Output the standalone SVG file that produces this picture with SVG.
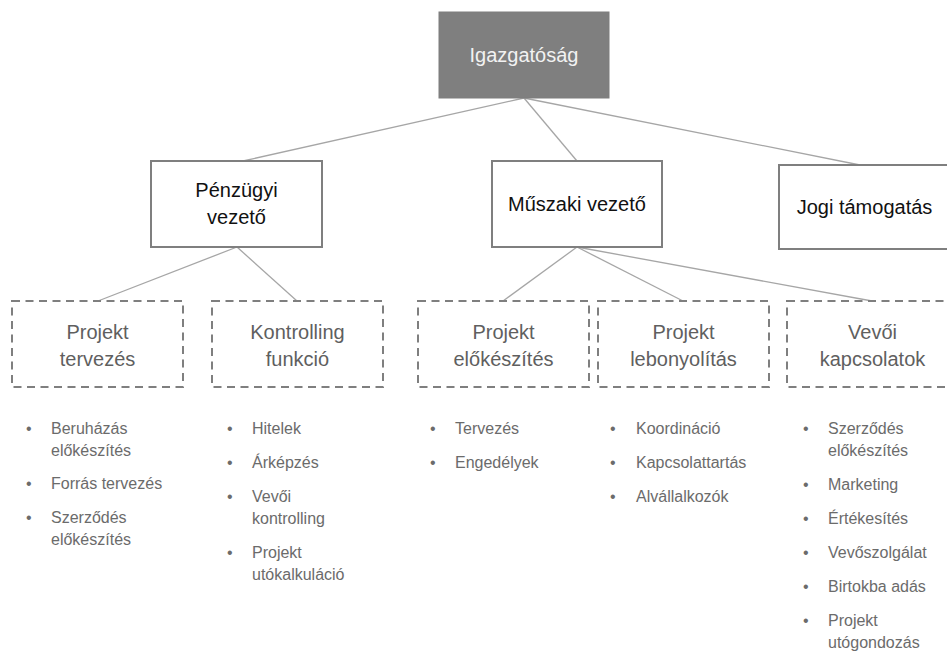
<svg xmlns="http://www.w3.org/2000/svg" width="947" height="651" viewBox="0 0 947 651">
<style>
.bg{fill:#ffffff}
.top{fill:#7f7f7f;stroke:#7f7f7f;stroke-width:1}
.solid{fill:#ffffff;stroke:#7f7f7f;stroke-width:2}
.dash{fill:#ffffff;stroke:#7f7f7f;stroke-width:2;stroke-dasharray:8 5.5}
.conn line{stroke:#a6a6a6;stroke-width:1.3;fill:none}
text{font-family:"Liberation Sans",Arial,sans-serif}
.tw{font-size:20px;fill:#f2f2f2;text-anchor:middle}
.tb{font-size:20px;fill:#111111;text-anchor:middle}
.tg{font-size:20px;fill:#5f5f5f;text-anchor:middle}
.li{font-size:16px;fill:#6b6b6b}
</style>
<rect class="bg" x="0" y="0" width="947" height="651"/>
<g id="connectors" class="conn">
<line x1="524" y1="98" x2="243" y2="161"/>
<line x1="524" y1="98" x2="577" y2="161"/>
<line x1="524" y1="98" x2="860" y2="165"/>
<line x1="237" y1="247" x2="98" y2="301"/>
<line x1="237" y1="247" x2="297" y2="301"/>
<line x1="577" y1="247" x2="503" y2="301"/>
<line x1="577" y1="247" x2="683" y2="301"/>
<line x1="577" y1="247" x2="872" y2="301"/>
</g>
<g id="igazgatosag">
<rect class="top" x="439" y="12" width="170" height="86"/>
<text class="tw" x="524" y="62">Igazgatóság</text>
</g>
<g id="penzugyi">
<rect class="solid" x="151" y="161" width="171" height="86"/>
<text class="tb" x="236.5" y="197">Pénzügyi</text>
<text class="tb" x="236.5" y="224">vezető</text>
</g>
<g id="muszaki">
<rect class="solid" x="492" y="161" width="170" height="86"/>
<text class="tb" x="577" y="211">Műszaki vezető</text>
</g>
<g id="jogi">
<rect class="solid" x="779" y="165" width="171" height="84"/>
<text class="tb" x="864.5" y="214">Jogi támogatás</text>
</g>
<g id="projekt-tervezes">
<rect class="dash" x="12" y="301" width="171" height="86"/>
<text class="tg" x="97.5" y="339">Projekt</text>
<text class="tg" x="97.5" y="366">tervezés</text>
</g>
<g id="kontrolling">
<rect class="dash" x="212" y="301" width="171" height="86"/>
<text class="tg" x="297.5" y="339">Kontrolling</text>
<text class="tg" x="297.5" y="366">funkció</text>
</g>
<g id="projekt-elokeszites">
<rect class="dash" x="418" y="301" width="171" height="86"/>
<text class="tg" x="503.5" y="339">Projekt</text>
<text class="tg" x="503.5" y="366">előkészítés</text>
</g>
<g id="projekt-lebonyolitas">
<rect class="dash" x="598" y="301" width="171" height="86"/>
<text class="tg" x="683.5" y="339">Projekt</text>
<text class="tg" x="683.5" y="366">lebonyolítás</text>
</g>
<g id="vevoi-kapcsolatok">
<rect class="dash" x="787" y="301" width="171" height="86"/>
<text class="tg" x="872.5" y="339">Vevői</text>
<text class="tg" x="872.5" y="366">kapcsolatok</text>
</g>
<g id="list-1" class="li">
<text x="26" y="434">•</text><text x="51" y="434">Beruházás</text>
<text x="51" y="456">előkészítés</text>
<text x="26" y="489">•</text><text x="51" y="489">Forrás tervezés</text>
<text x="26" y="523">•</text><text x="51" y="523">Szerződés</text>
<text x="51" y="545">előkészítés</text>
</g>
<g id="list-2" class="li">
<text x="227" y="434">•</text><text x="252" y="434">Hitelek</text>
<text x="227" y="468">•</text><text x="252" y="468">Árképzés</text>
<text x="227" y="502">•</text><text x="252" y="502">Vevői</text>
<text x="252" y="524">kontrolling</text>
<text x="227" y="558">•</text><text x="252" y="558">Projekt</text>
<text x="252" y="580">utókalkuláció</text>
</g>
<g id="list-3" class="li">
<text x="430" y="434">•</text><text x="455" y="434">Tervezés</text>
<text x="430" y="468">•</text><text x="455" y="468">Engedélyek</text>
</g>
<g id="list-4" class="li">
<text x="610" y="434">•</text><text x="636" y="434">Koordináció</text>
<text x="610" y="468">•</text><text x="636" y="468">Kapcsolattartás</text>
<text x="610" y="502">•</text><text x="636" y="502">Alvállalkozók</text>
</g>
<g id="list-5" class="li">
<text x="803" y="434">•</text><text x="828" y="434">Szerződés</text>
<text x="828" y="456">előkészítés</text>
<text x="803" y="490">•</text><text x="828" y="490">Marketing</text>
<text x="803" y="524">•</text><text x="828" y="524">Értékesítés</text>
<text x="803" y="558">•</text><text x="828" y="558">Vevőszolgálat</text>
<text x="803" y="592">•</text><text x="828" y="592">Birtokba adás</text>
<text x="803" y="626">•</text><text x="828" y="626">Projekt</text>
<text x="828" y="648">utógondozás</text>
</g>
</svg>
